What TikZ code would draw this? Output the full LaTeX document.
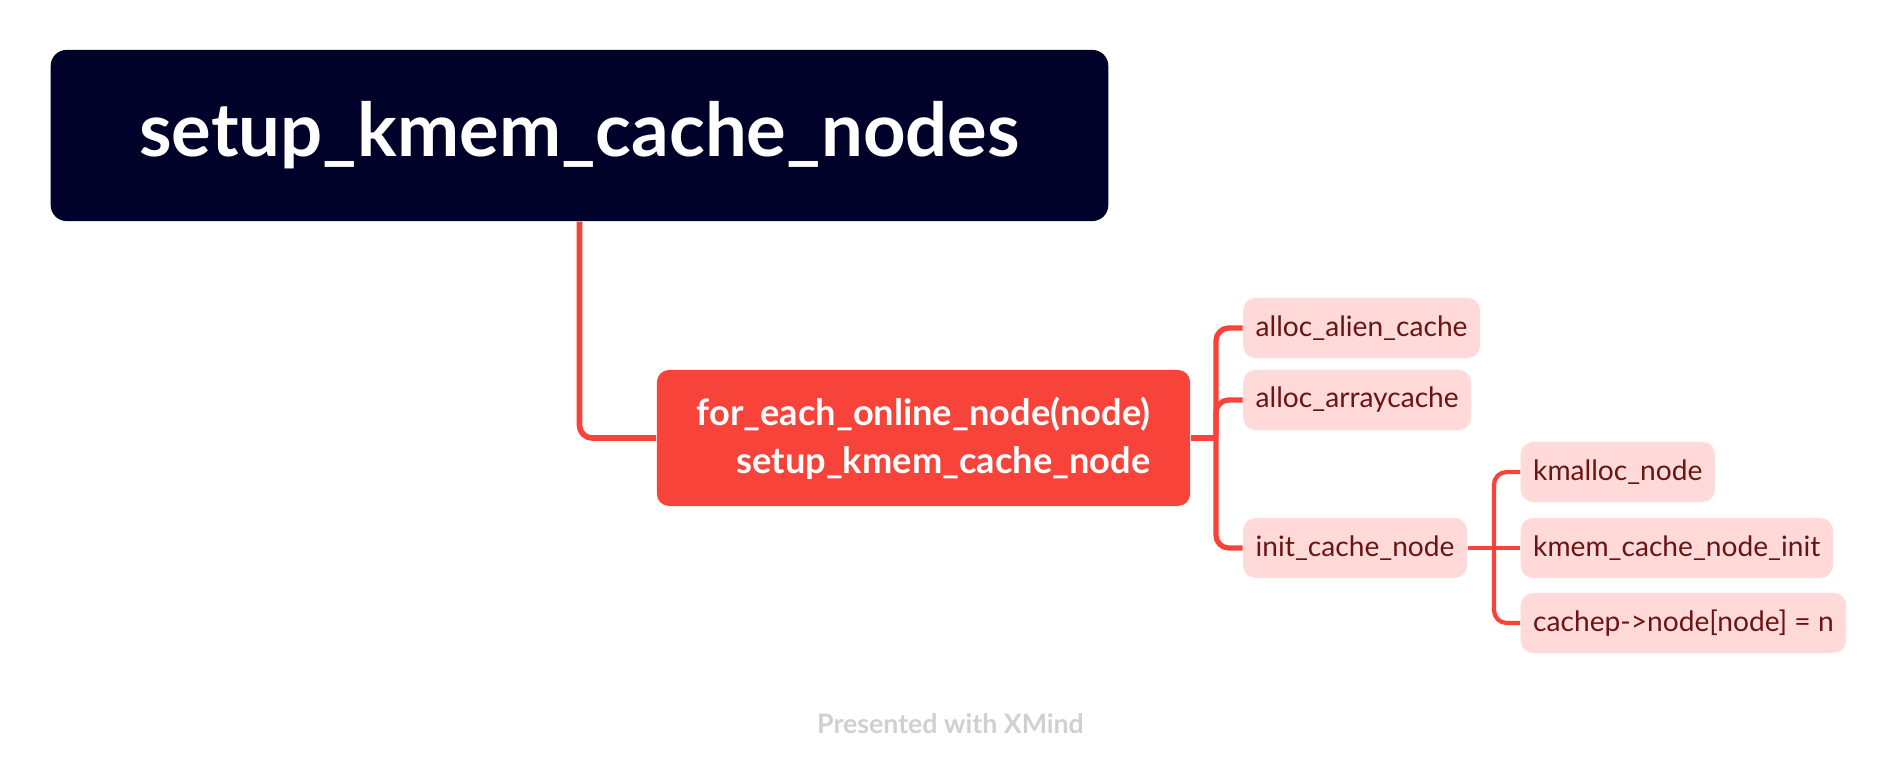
\documentclass[tikz,border=0pt]{standalone}
\usepackage{fontspec}
\setmainfont{Lato}
\definecolor{rootbg}{HTML}{000229}
\definecolor{mainred}{HTML}{F8433B}
\definecolor{leafbg}{HTML}{FFDAD8}
\definecolor{leaftext}{HTML}{6A1414}
\definecolor{markgray}{HTML}{D0D0D0}

\begin{document}
\begin{tikzpicture}[x=0.01cm,y=-0.01cm,
  rootbox/.style={fill=rootbg,text=white,rounded corners=4.5pt,inner sep=0pt,
    minimum width=10.57cm,minimum height=1.71cm,font=\fontsize{21.1}{25}\bfseries},
  loopbox/.style={fill=mainred,text=white,rounded corners=3.5pt,inner sep=0pt,align=right,
    minimum width=5.33cm,minimum height=1.36cm,font=\fontsize{10.3}{13.7}\bfseries},
  leaf/.style={fill=leafbg,text=leaftext,rounded corners=3.5pt,anchor=west,
    inner xsep=0.125cm,inner ysep=0pt,minimum height=0.6cm,font=\fontsize{8}{9}\selectfont},
  link/.style={draw=mainred,line width=1.6pt,rounded corners=3.6pt}]
\useasboundingbox (0,0) rectangle (1902,774);

\node[rootbox] (root) at (579.5,135.5) {setup\_kmem\_cache\_nodes}; % root
\node[loopbox] (loop) at (923.5,438) {for\_each\_online\_node(node)\\setup\_kmem\_cache\_node};

\node[leaf] (alien) at (1242.5,328) {alloc\_alien\_cache};
\node[leaf] (array) at (1242.5,400) {alloc\_arraycache};
\node[leaf] (initnode) at (1242.5,548) {init\_cache\_node};
\node[leaf] (kmalloc) at (1520,472) {kmalloc\_node};
\node[leaf] (nodeinit) at (1520,548) {kmem\_cache\_node\_init};
\node[leaf] (assign) at (1520,623) {cachep->node[node] = n};

\coordinate (fork) at (1216,438);
\coordinate (subfork) at (1494,548);

\draw[link] (root.south) |- (loop.west);
\draw[link,line width=1.5pt] (loop.east) -- (fork);
\draw[link,line width=1.5pt] (fork) |- (alien.west);
\draw[link,line width=1.5pt] (fork) |- (array.west);
\draw[link,line width=1.5pt] (fork) |- (initnode.west);
\draw[link,line width=1.2pt] (initnode.east) -- (subfork);
\draw[link,line width=1.2pt] (subfork) |- (kmalloc.west);
\draw[link,line width=1.2pt] (subfork) -- (nodeinit.west);
\draw[link,line width=1.2pt] (subfork) |- (assign.west);

\node[font=\fontsize{7.6}{8}\bfseries,text=markgray] (mark) at (950.5,724) {Presented with XMind};
\end{tikzpicture}
\end{document}
